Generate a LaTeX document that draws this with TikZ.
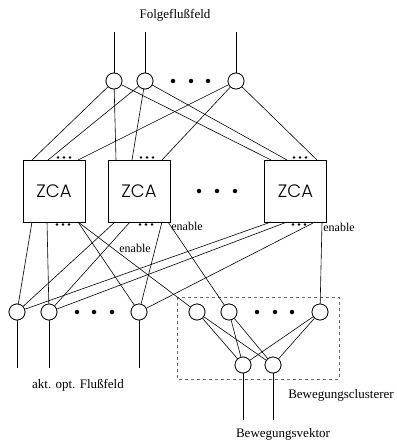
\documentclass[tikz,border=0pt]{standalone}
\usepackage{fontspec}
\setmainfont{Liberation Serif}
\IfFontExistsTF{Poppins Light}{\newfontfamily\zcafont{Poppins Light}}{\newfontfamily\zcafont{Poppins}}
\begin{document}
\begin{tikzpicture}[x=1pt,y=-1pt,
  neuron/.style={circle,draw,fill=white,minimum size=16pt,inner sep=0pt,line width=0.7pt},
  zca/.style={draw,minimum width=62pt,minimum height=62pt,inner sep=0pt,line width=0.7pt,font=\zcafont\fontsize{18}{18}\selectfont},
  bigdot/.style={circle,fill=black,inner sep=0pt,minimum size=4.5pt},
  smalldot/.style={circle,fill=black,inner sep=0pt,minimum size=2.8pt},
  conn/.style={line width=0.6pt},
  lbl/.style={font=\fontsize{13}{13}\selectfont,inner sep=0pt},
  enlbl/.style={font=\fontsize{12}{12}\selectfont,inner sep=0pt}
]
\useasboundingbox (0,0) rectangle (396,441);

% dashed cluster box
\draw[dashed,line width=0.6pt,gray!80!black] (177,297) rectangle (339,379);

% ZCA boxes
\node[zca] (B1) at (54,191) {ZCA};
\node[zca] (B2) at (139,191) {ZCA};
\node[zca] (B3) at (295.5,191) {ZCA};

% top neurons
\node[neuron] (T1) at (114,81) {};
\node[neuron] (T2) at (145,81) {};
\node[neuron] (T3) at (236,81) {};
\foreach \x/\n in {173/a,191/b,208/c} \node[bigdot] (td\n) at (\x,81) {};

% middle dots
\foreach \x/\n in {199/a,217/b,235/c} \node[bigdot] (md\n) at (\x,191) {};

% small dots on boxes
\foreach \b/\x in {1/64,2/147,3/300} {
  \foreach \d in {-6,0,6} {
    \node[smalldot] at (\x+\d,157.5) {};
  }
}
\foreach \b/\x in {1/63,2/146,3/299} {
  \foreach \d in {-6,0,6} {
    \node[smalldot] at (\x+\d,224.5) {};
  }
}

% bottom row neurons
\node[neuron] (L1) at (17,312) {};
\node[neuron] (L2) at (49,312) {};
\node[neuron] (L3) at (139,312) {};
\foreach \x/\n in {77/a,94/b,112/c} \node[bigdot] (ld\n) at (\x,312) {};
\node[neuron] (C1) at (197,312) {};
\node[neuron] (C2) at (229,312) {};
\node[neuron] (C3) at (320,312) {};
\foreach \x/\n in {257/a,275/b,292/c} \node[bigdot] (cd\n) at (\x,312) {};
\node[neuron] (D1) at (243,365) {};
\node[neuron] (D2) at (273,365) {};

% box port coordinates
\coordinate (B1ta) at (32,160);  \coordinate (B1tb) at (48,160);  \coordinate (B1tc) at (78,160);
\coordinate (B2ta) at (116,160); \coordinate (B2tb) at (132,160); \coordinate (B2tc) at (162,160);
\coordinate (B3ta) at (271,160); \coordinate (B3tb) at (287,160); \coordinate (B3tc) at (317,160);
\coordinate (B1ba) at (32,222);  \coordinate (B1bb) at (47,222);  \coordinate (B1bc) at (78,222);
\coordinate (B2ba) at (115,222); \coordinate (B2bb) at (130,222); \coordinate (B2bc) at (162,222); \coordinate (B2bd) at (168,222);
\coordinate (B3ba) at (271,222); \coordinate (B3bb) at (287,222); \coordinate (B3bc) at (315,222); \coordinate (B3bd) at (322,222);

% free ends
\coordinate (T1in) at (114,32); \coordinate (T2in) at (145,32); \coordinate (T3in) at (236,32);
\coordinate (L1out) at (17,368); \coordinate (L2out) at (49,368); \coordinate (L3out) at (139,368);
\coordinate (D1out) at (243,420); \coordinate (D2out) at (273,420);

% inputs
\draw[conn] (T1in) -- (T1);
\draw[conn] (T2in) -- (T2);
\draw[conn] (T3in) -- (T3);

% top to boxes
\draw[conn] (T1) -- (B1ta);
\draw[conn] (T2) -- (B1tb);
\draw[conn] (T3) -- (B1tc);
\draw[conn] (T1) -- (B2ta);
\draw[conn] (T2) -- (B2tb);
\draw[conn] (T3) -- (B2tc);
\draw[conn] (T1) -- (B3ta);
\draw[conn] (T2) -- (B3tb);
\draw[conn] (T3) -- (B3tc);

% boxes to bottom
\draw[conn] (B1ba) -- (L1);
\draw[conn] (B1bb) -- (L2);
\draw[conn] (B1bc) -- (L3);
\draw[conn] (B1bc) -- (C1);
\draw[conn] (B2ba) -- (L1);
\draw[conn] (B2bb) -- (L2);
\draw[conn] (B2bc) -- (L3);
\draw[conn] (B2bd) -- (C2);
\draw[conn] (B3ba) -- (L1);
\draw[conn] (B3bb) -- (L2);
\draw[conn] (B3bc) -- (L3);
\draw[conn] (B3bd) -- (C3);

% cluster
\foreach \c in {C1,C2,C3} {
  \draw[conn] (\c) -- (D1);
  \draw[conn] (\c) -- (D2);
}

% outputs
\draw[conn] (L1) -- (L1out);
\draw[conn] (L2) -- (L2out);
\draw[conn] (L3) -- (L3out);
\draw[conn] (D1) -- (D1out);
\draw[conn] (D2) -- (D2out);

% redraw neurons on top
\foreach \n in {T1,T2,T3,L1,L2,L3,C1,C2,C3,D1,D2} \draw[line width=0.7pt,fill=white] (\n) circle (8pt);

% labels
\node[lbl] (tin) at (175,15) {Folgeflußfeld};
\node[lbl] (tout1) at (78,385) {akt. opt. Flußfeld};
\node[lbl] (tclu) at (341,395) {Bewegungsclusterer};
\node[lbl] (tout2) at (283,434) {Bewegungsvektor};
\node[enlbl] (en1) at (135,248) {enable};
\node[enlbl] (en2) at (187,226) {enable};
\node[enlbl] (en3) at (339,227) {enable};
\end{tikzpicture}
\end{document}
